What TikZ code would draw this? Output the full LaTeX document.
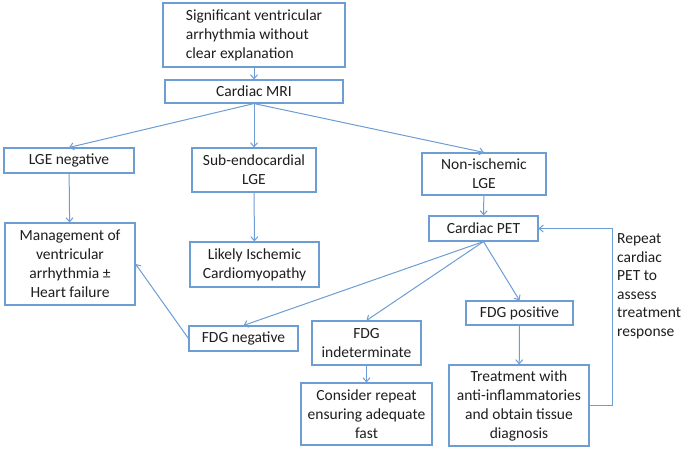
\documentclass[tikz,border=0pt]{standalone}
\usepackage{fontspec}
\setmainfont{Carlito}
\usetikzlibrary{arrows.meta}
\definecolor{boxblue}{RGB}{110,157,212}
\definecolor{txt}{RGB}{30,30,30}
\tikzset{
  box/.style={draw=boxblue, line width=1.1pt, fill=white, inner sep=0pt, align=center,
    text=txt, font=\fontsize{15.5}{19}\selectfont},
  arr/.style={draw=boxblue, line width=1pt, -{Straight Barb[length=4pt,width=7pt]}},
}
\begin{document}
\begin{tikzpicture}[x=1pt,y=-1pt]
\useasboundingbox[fill=white] (0,0) rectangle (685,451);
\node[box, minimum width=182pt, minimum height=64pt, align=left] (top) at (254,35) {Significant ventricular\\arrhythmia without\\clear explanation};
\node[box, minimum width=178pt, minimum height=23pt] (mri) at (254,91.5) {Cardiac MRI};
\node[box, minimum width=130pt, minimum height=25pt] (lgeneg) at (69,160.5) {LGE negative};
\node[box, minimum width=124pt, minimum height=44pt] (subendo) at (254,170) {Sub-endocardial\\LGE};
\node[box, minimum width=124pt, minimum height=42pt] (nonisch) at (484,174) {Non-ischemic\\LGE};
\node[box, minimum width=109pt, minimum height=25pt] (pet) at (483.5,228.5) {Cardiac PET};
\node[box, minimum width=130pt, minimum height=82pt] (mgmt) at (70,264) {Management of\\ventricular\\arrhythmia ±\\Heart failure};
\node[box, minimum width=129pt, minimum height=45pt] (likely) at (254.5,264.5) {Likely Ischemic\\Cardiomyopathy};
\node[box, minimum width=109pt, minimum height=25pt] (fdgneg) at (243.5,338.5) {FDG negative};
\node[box, minimum width=109pt, minimum height=44pt] (fdgind) at (366.5,343) {FDG\\indeterminate};
\node[box, minimum width=131pt, minimum height=62pt] (consider) at (366.5,414) {Consider repeat\\ensuring adequate\\fast};
\node[box, minimum width=107pt, minimum height=24pt] (fdgpos) at (519.5,313) {FDG positive};
\node[box, minimum width=140pt, minimum height=81pt] (treat) at (519,405.5) {Treatment with\\anti-inflammatories\\and obtain tissue\\diagnosis};
\node[anchor=west, align=left, inner sep=0pt, text=txt, font=\fontsize{15.5}{18.5}\selectfont] (repeat) at (617,286.5) {Repeat\\cardiac\\PET to\\assess\\treatment\\response};
\coordinate (fb) at (612,228.5);
\draw[arr] (top) -- (mri);
\draw[arr] (mri.south) -- (lgeneg.north);
\draw[arr] (mri.south) -- (subendo.north);
\draw[arr] (mri.south) -- (nonisch.north);
\draw[arr] (lgeneg) -- (mgmt);
\draw[arr] (subendo) -- (likely);
\draw[arr] (nonisch) -- (pet);
\draw[arr] (pet.south) -- (fdgneg.north);
\draw[arr] (pet.south) -- (fdgind.north);
\draw[arr] (pet.south) -- (fdgpos.north);
\draw[arr] (fdgpos) -- (treat);
\draw[arr] (fdgind) -- (consider);
\draw[arr] (fdgneg.west) -- (mgmt.east);
\draw[arr] (treat.east) -| (fb) -- (pet.east);
\end{tikzpicture}
\end{document}
